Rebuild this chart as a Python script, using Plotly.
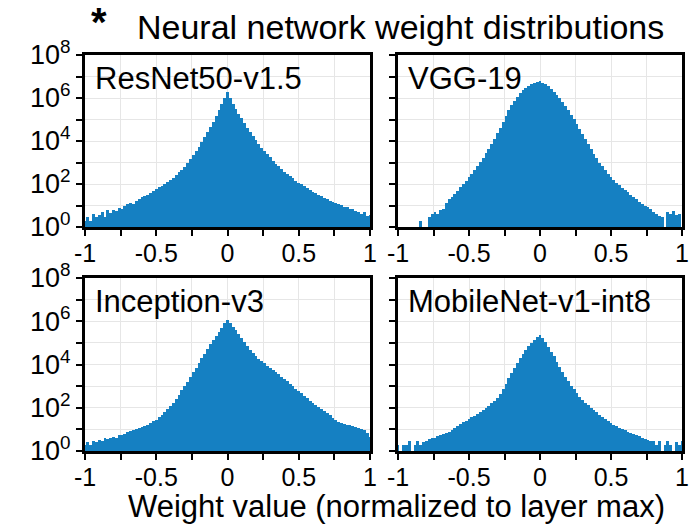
import plotly.graph_objects as go

# ---------------- data (log10 of bin counts, bins of width 0.02 centred at -1.00 ... 1.00) ----------------
bin_centers = [round(-1 + 0.02 * i, 2) for i in range(101)]

panel_names = ["ResNet50-v1.5", "VGG-19", "Inception-v3", "MobileNet-v1-int8"]

resnet_log10 = [
    0.30, 0.48, 0.30, 0.60, 0.48, 0.56, 0.70, 0.48, 0.78, 0.65,
    0.80, 0.74, 0.90, 0.85, 0.98, 1.05, 1.12, 1.08, 1.22, 1.28,
    1.38, 1.42, 1.50, 1.58, 1.66, 1.76, 1.84, 1.90, 2.00, 2.08,
    2.18, 2.28, 2.40, 2.54, 2.66, 2.80, 2.98, 3.16, 3.36, 3.55,
    3.74, 3.95, 4.17, 4.40, 4.65, 4.90, 5.18, 5.46, 5.74, 6.02,
    6.30,
    6.00, 5.72, 5.48, 5.26, 5.05, 4.83, 4.61, 4.41, 4.23, 4.05,
    3.87, 3.69, 3.53, 3.38, 3.24, 3.09, 2.95, 2.82, 2.69, 2.57,
    2.46, 2.36, 2.26, 2.16, 2.06, 1.98, 1.89, 1.81, 1.72, 1.64,
    1.57, 1.50, 1.43, 1.36, 1.29, 1.22, 1.18, 1.12, 1.06, 1.02,
    0.95, 0.92, 0.85, 0.82, 0.76, 0.72, 0.62, 0.70, 0.52, 0.56,
]

vgg_log10 = [
    None, None, None, None, None, None, None, None, 0.30, None,
    None, 0.48, 0.60, 0.70, 0.62, 0.78, 0.85, 1.10, 1.30, 1.38,
    1.55, 1.68, 1.85, 1.98, 2.15, 2.32, 2.48, 2.66, 2.86, 3.02,
    3.19, 3.42, 3.62, 3.86, 4.10, 4.36, 4.62, 4.90, 5.16, 5.42,
    5.67, 5.88, 6.07, 6.22, 6.35, 6.45, 6.54, 6.63, 6.70, 6.76,
    6.80,
    6.72, 6.64, 6.56, 6.44, 6.30, 6.15, 5.98, 5.80, 5.63, 5.44,
    5.23, 5.01, 4.79, 4.56, 4.33, 4.09, 3.86, 3.62, 3.40, 3.19,
    3.00, 2.82, 2.64, 2.47, 2.31, 2.18, 2.06, 1.94, 1.83, 1.72,
    1.62, 1.51, 1.40, 1.29, 1.18, 1.08, 0.99, 0.92, 0.82, 0.71,
    0.62, 0.52, 0.45, None, 0.70, 0.60, 0.75, 0.55, 0.62, None,
]

inception_log10 = [
    0.30, 0.40, 0.30, 0.48, 0.40, 0.50, 0.45, 0.60, 0.55, 0.62,
    0.65, 0.62, 0.72, 0.74, 0.80, 0.86, 0.92, 0.96, 1.00, 1.06,
    1.10, 1.16, 1.22, 1.30, 1.38, 1.45, 1.56, 1.68, 1.82, 1.94,
    2.06, 2.24, 2.40, 2.60, 2.80, 3.00, 3.21, 3.42, 3.64, 3.85,
    4.07, 4.29, 4.50, 4.71, 4.93, 5.15, 5.33, 5.51, 5.70, 5.90,
    6.07,
    5.90, 5.75, 5.59, 5.40, 5.22, 5.04, 4.85, 4.68, 4.52, 4.38,
    4.26, 4.15, 4.05, 3.94, 3.84, 3.74, 3.65, 3.55, 3.44, 3.33,
    3.23, 3.12, 3.01, 2.89, 2.76, 2.66, 2.55, 2.44, 2.33, 2.22,
    2.12, 2.03, 1.94, 1.85, 1.76, 1.65, 1.54, 1.44, 1.36, 1.28,
    1.25, 1.22, 1.18, 1.14, 1.10, 1.06, 1.02, 0.96, 0.85, 0.65,
]

mobilenet_log10 = [
    0.30, None, 0.30, 0.30, 0.48, None, 0.30, 0.48, 0.30, 0.40,
    0.48, 0.55, 0.60, 0.62, 0.68, 0.72, 0.78, 0.84, 0.90, 0.98,
    1.06, 1.14, 1.24, 1.32, 1.40, 1.48, 1.56, 1.64, 1.72, 1.82,
    1.91, 2.00, 2.08, 2.20, 2.32, 2.45, 2.65, 2.86, 3.10, 3.36,
    3.60, 3.82, 4.08, 4.30, 4.50, 4.68, 4.84, 5.00, 5.14, 5.28,
    5.38,
    5.22, 5.02, 4.80, 4.60, 4.38, 4.12, 3.88, 3.64, 3.43, 3.22,
    3.02, 2.85, 2.68, 2.52, 2.37, 2.24, 2.12, 2.00, 1.90, 1.79,
    1.68, 1.58, 1.48, 1.38, 1.29, 1.22, 1.14, 1.08, 1.02, 0.96,
    0.90, 0.83, 0.77, 0.72, 0.68, 0.62, 0.56, 0.52, 0.48, 0.45,
    0.30, 0.48, None, 0.30, 0.48, 0.30, None, 0.40, 0.30, 0.48,
]

x_tick_vals = [-1, -0.75, -0.5, -0.25, 0, 0.25, 0.5, 0.75, 1]
x_tick_text = ["-1", "", "-0.5", "", "0", "", "0.5", "", "1"]
y_tick_vals = [10 ** k for k in range(9)]
y_tick_text = ["10<sup>%d</sup>" % k if k % 2 == 0 else "" for k in range(9)]

title_text = "Neural network weight distributions"
x_title_text = "Weight value (normalized to layer max)"

# ---------------- figure ----------------
W, H = 699, 526
BAR_COLOR = "#1580C2"
FONT = "Liberation Sans, Arial, Helvetica, sans-serif"

series = [resnet_log10, vgg_log10, inception_log10, mobilenet_log10]

x_domains = [[85 / W, 370 / W], [398 / W, 682 / W], [85 / W, 370 / W], [398 / W, 682 / W]]
y_domains = [[1 - 227 / H, 1 - 55 / H], [1 - 227 / H, 1 - 55 / H],
             [1 - 451 / H, 1 - 278 / H], [1 - 451 / H, 1 - 278 / H]]

fig = go.Figure()
layout = dict(
    width=W, height=H,
    margin=dict(l=0, r=0, t=0, b=0, pad=0, autoexpand=False),
    paper_bgcolor="white", plot_bgcolor="white",
    showlegend=False, bargap=0,
    font=dict(family=FONT, color="black"),
)

annotations = []
for i, (vals, name) in enumerate(zip(series, panel_names)):
    n = i + 1
    xa = "x" if n == 1 else "x%d" % n
    ya = "y" if n == 1 else "y%d" % n
    counts = [None if v is None else 10 ** v for v in vals]
    fig.add_trace(go.Bar(
        x=bin_centers, y=counts, xaxis=xa, yaxis=ya,
        marker=dict(color=BAR_COLOR, line=dict(width=0)),
        width=0.02,
    ))
    axis_common = dict(
        showline=True, mirror=True, linecolor="black", linewidth=3,
        ticks="outside", ticklen=6, tickwidth=2, tickcolor="black",
        showgrid=True, gridcolor="#e6e6e6", gridwidth=1, zeroline=False,
        automargin=False,
    )
    layout["xaxis" if n == 1 else "xaxis%d" % n] = dict(
        domain=x_domains[i], anchor=ya, range=[-1, 1],
        tickmode="array", tickvals=x_tick_vals, ticktext=x_tick_text,
        tickfont=dict(size=25, family=FONT, color="black"),
        ticklabelstandoff=-4,
        **axis_common,
    )
    layout["yaxis" if n == 1 else "yaxis%d" % n] = dict(
        domain=y_domains[i], anchor=xa, type="log", range=[0, 8],
        tickmode="array", tickvals=y_tick_vals,
        ticktext=y_tick_text if n in (1, 3) else [""] * 9,
        tickfont=dict(size=27, family=FONT, color="black"),
        **axis_common,
    )
    annotations.append(dict(
        text=name, xref="paper", yref="paper",
        x=x_domains[i][0] + 8 / W, y=y_domains[i][1] - 4 / H,
        xanchor="left", yanchor="top", showarrow=False,
        font=dict(size=31, family=FONT, color="black"),
    ))

annotations.append(dict(
    text="<b>*</b>", xref="paper", yref="paper", x=89 / W, y=1 + 2 / H,
    xanchor="left", yanchor="top", showarrow=False,
    font=dict(size=40, family=FONT, color="black"),
))
annotations.append(dict(
    text=title_text, xref="paper", yref="paper", x=400 / W, y=1 - 6 / H,
    xanchor="center", yanchor="top", showarrow=False,
    font=dict(size=34, family=FONT, color="black"),
))
annotations.append(dict(
    text=x_title_text, xref="paper", yref="paper", x=396 / W, y=0,
    xanchor="center", yanchor="bottom", showarrow=False,
    font=dict(size=31, family=FONT, color="black"),
))
layout["annotations"] = annotations
fig.update_layout(**layout)

fig.write_html("out.html")
